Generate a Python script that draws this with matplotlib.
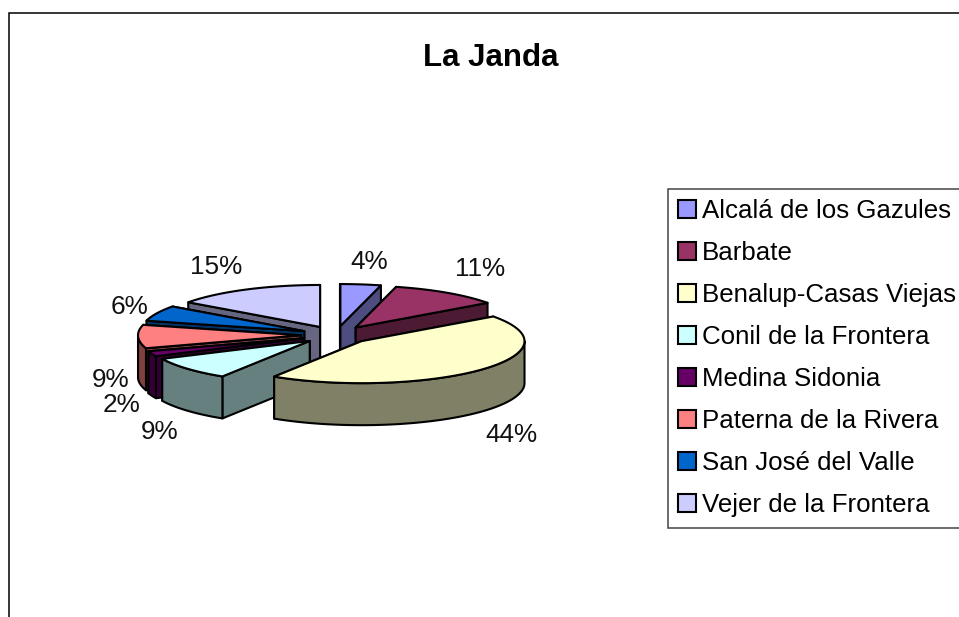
import numpy as np
import matplotlib
matplotlib.use("Agg")
import matplotlib.pyplot as plt
from matplotlib.patches import Polygon, Patch
from matplotlib.colors import to_rgb

plt.rcParams["font.family"] = ["Liberation Sans", "DejaVu Sans"]

title = "La Janda"
municipios = ["Alcalá de los Gazules", "Barbate", "Benalup-Casas Viejas", "Conil de la Frontera",
              "Medina Sidonia", "Paterna de la Rivera", "San José del Valle", "Vejer de la Frontera"]
valores = [4, 11, 44, 9, 2, 9, 6, 15]
colores = ["#9999FF", "#993366", "#FFFFCC", "#CCFFFF", "#660066", "#FF8080", "#0066CC", "#CCCCFF"]

# geometria del pastel en pixeles
CX, CY = 336, 335
RX, RY = 163, 42
EXPLODE = 35
ALTO = 42
# posicion de cada etiqueta (centro del texto)
pos_etiquetas = [(369, 262), (480, 269), (511, 435), (160, 432), (122, 405), (111, 380), (129, 307), (216, 267)]
orden = [7, 0, 1, 6, 5, 4, 3, 2]  # de atras hacia delante

W, H = 959, 617
fig = plt.figure(figsize=(W / 100, H / 100), dpi=100)
ax = fig.add_axes([0, 0, 1, 1])
ax.set_xlim(0, W)
ax.set_ylim(H, 0)
ax.axis("off")

# marco del grafico, cortado por la derecha y por abajo
ax.plot([9, 9, W + 5], [H + 5, 13, 13], color="black", lw=1.1, solid_joinstyle="miter")

ax.text(491, 58, title, fontsize=22.5, fontweight="bold", ha="center", va="center")

total = sum(valores)
bordes = np.cumsum([0] + valores) / total * 2 * np.pi


def punto(ox, oy, t):
    return ox + RX * np.sin(t), oy - RY * np.cos(t)


for i in orden:
    t0, t1 = bordes[i], bordes[i + 1]
    tm = (t0 + t1) / 2
    ox = CX + EXPLODE * np.sin(tm)
    oy = CY - EXPLODE * RY / RX * np.cos(tm)
    ts = np.linspace(t0, t1, 60)
    xs, ys = punto(ox, oy, ts)
    claro = to_rgb(colores[i])
    oscuro = tuple(c * 0.5 for c in claro)

    caras = []
    for t in (t0, t1):
        x1, y1 = punto(ox, oy, t)
        caras.append([(ox, oy), (x1, y1), (x1, y1 + ALTO), (ox, oy + ALTO)])
    caras.sort(key=lambda c: np.mean([p[1] for p in c]))
    for c in caras:
        ax.add_patch(Polygon(c, closed=True, fc=oscuro, ec="black", lw=1.5, joinstyle="round"))

    # pared exterior: solo la parte que mira al frente
    ta = max(t0, np.pi / 2)
    tb = min(t1, 3 * np.pi / 2)
    if ta < tb:
        tp = np.linspace(ta, tb, 60)
        xp, yp = punto(ox, oy, tp)
        pared = list(zip(xp, yp)) + list(zip(xp[::-1], yp[::-1] + ALTO))
        ax.add_patch(Polygon(pared, closed=True, fc=oscuro, ec="black", lw=1.5, joinstyle="round"))

    tapa = [(ox, oy)] + list(zip(xs, ys))
    ax.add_patch(Polygon(tapa, closed=True, fc=claro, ec="black", lw=1.5, joinstyle="round"))

for v, (x, y) in zip(valores, pos_etiquetas):
    ax.text(x, y, f"{v / total:.0%}", fontsize=18.8, ha="center", va="center", color="#111111")

handles = [Patch(fc=c, ec="black", lw=1.5) for c in colores]
leg = ax.legend(handles, municipios, loc="upper left", bbox_to_anchor=(668, 188.5),
                bbox_transform=ax.transData, fontsize=18.6, frameon=True, fancybox=False,
                edgecolor="#444444", framealpha=1, borderaxespad=0, borderpad=0.40,
                handlelength=0.68, handleheight=0.68, handletextpad=0.22, labelspacing=0.70)
leg.get_frame().set_linewidth(1.1)

fig.savefig("out.png", dpi=100)
